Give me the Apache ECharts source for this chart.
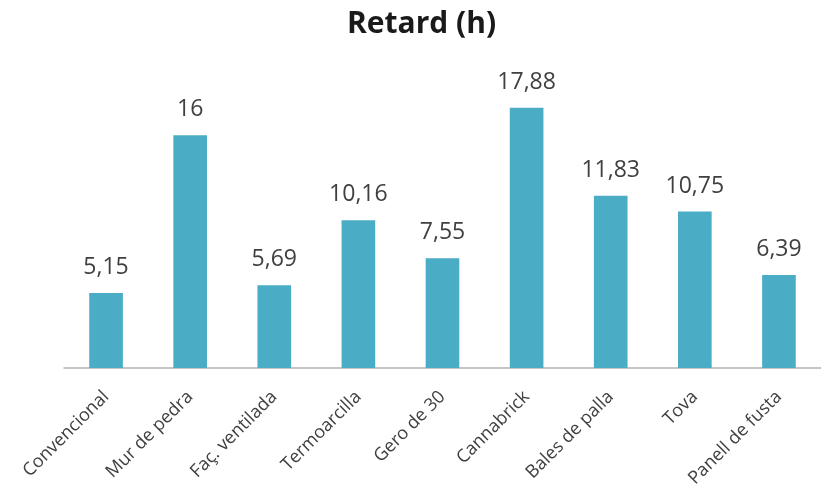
<!DOCTYPE html>
<html>
<head>
<meta charset="utf-8">
<script src="https://cdn.jsdelivr.net/npm/echarts@6/dist/echarts.min.js"></script>
<style>
  html, body { margin: 0; padding: 0; background: #fff; }
  #chart { width: 821px; height: 486px; }
</style>
</head>
<body>
<div id="chart"></div>
<script>
// Dades del gràfic
const categories = ['Convencional', 'Mur de pedra', 'Faç. ventilada', 'Termoarcilla', 'Gero de 30', 'Cannabrick', 'Bales de palla', 'Tova', 'Panell de fusta']
const retard = [5.15, 16, 5.69, 10.16, 7.55, 17.88, 11.83, 10.75, 6.39]

const chart = echarts.init(document.getElementById('chart'))

chart.setOption({
  animation: false,
  textStyle: { fontFamily: 'Open Sans' },
  title: {
    text: 'Retard (h)',
    left: 342,
    top: 4,
    textStyle: { fontSize: 30, fontWeight: 'bold', color: '#1a1a1a', fontFamily: 'Open Sans' }
  },
  grid: { left: 64, right: 0, top: 77, bottom: 118, containLabel: false, outerBoundsMode: 'none' },
  xAxis: {
    type: 'category',
    data: categories,
    axisLine: { lineStyle: { color: '#b3b3b3', width: 1.5 } },
    axisTick: { show: false },
    axisLabel: {
      rotate: 45,
      fontSize: 18,
      color: '#404040',
      margin: 26,
      interval: 0
    }
  },
  yAxis: {
    type: 'value',
    min: 0,
    max: 20,
    show: false,
    splitLine: { show: false }
  },
  series: [
    {
      type: 'bar',
      data: retard,
      barWidth: '40%',
      itemStyle: { color: '#4bacc6' },
      label: {
        show: true,
        position: 'top',
        distance: 14,
        fontSize: 23,
        color: '#404040',
        formatter: (p) => String(p.value).replace('.', ',')
      }
    }
  ]
})
</script>
</body>
</html>
